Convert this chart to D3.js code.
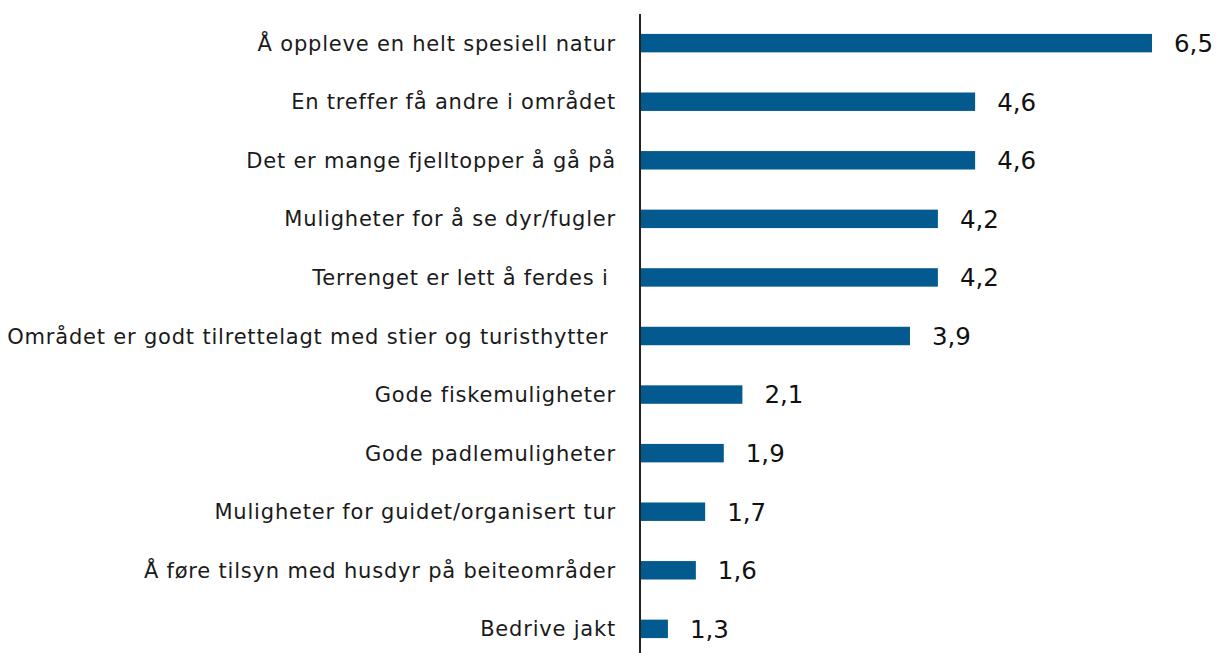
<!DOCTYPE html>
<html>
<head>
<meta charset="utf-8">
<script src="https://cdn.jsdelivr.net/npm/d3@7"></script>
<style>
  html, body { margin: 0; padding: 0; background: #fff; }
  svg { display: block; }
</style>
</head>
<body>
<svg id="chart" width="1218" height="653"></svg>
<script>
const categories = [
  "Å oppleve en helt spesiell natur",
  "En treffer få andre i området",
  "Det er mange fjelltopper å gå på",
  "Muligheter for å se dyr/fugler",
  "Terrenget er lett å ferdes i ",
  "Området er godt tilrettelagt med stier og turisthytter ",
  "Gode fiskemuligheter",
  "Gode padlemuligheter",
  "Muligheter for guidet/organisert tur",
  "Å føre tilsyn med husdyr på beiteområder",
  "Bedrive jakt"
];
const values = [6.5, 4.6, 4.6, 4.2, 4.2, 3.9, 2.1, 1.9, 1.7, 1.6, 1.3];
const axisMin = 1;

const svg = d3.select("#chart");
const W = 1218, H = 653;
const axisX = 640;

const x = d3.scaleLinear().domain([axisMin, 6.5]).range([axisX, 1152]);
const y = d3.scaleBand().domain(categories).range([14, 658]).paddingInner(0.685).paddingOuter(0.34);

const data = categories.map((c, i) => ({ c, v: values[i] }));

svg.selectAll("rect.bar").data(data).enter().append("rect")
  .attr("class", "bar")
  .attr("x", x(axisMin))
  .attr("y", d => y(d.c))
  .attr("width", d => x(d.v) - x(axisMin))
  .attr("height", y.bandwidth())
  .attr("fill", "#035A8E");

// category labels (left axis)
const yAxis = d3.axisLeft(y).tickSize(0).tickPadding(0);
const gy = svg.append("g").attr("transform", `translate(${axisX - 24},0)`).call(yAxis);
gy.select(".domain").remove();
gy.selectAll("text")
  .style("font-family", "'DejaVu Sans', sans-serif")
  .style("font-size", "21px")
  .style("letter-spacing", "0.8px")
  .attr("fill", "#1a1a1a")
  .style("white-space", "pre")
  .attr("dy", "0.36em");

// vertical axis line
svg.append("line")
  .attr("x1", axisX).attr("x2", axisX)
  .attr("y1", 14).attr("y2", H)
  .attr("stroke", "#222").attr("stroke-width", 2);

// value labels
const fmt = v => d3.format(".1f")(v).replace(".", ",");
svg.selectAll("text.val").data(data).enter().append("text")
  .attr("class", "val")
  .attr("x", d => x(d.v) + 22)
  .attr("y", d => y(d.c) + y.bandwidth() / 2)
  .attr("dy", "0.36em")
  .style("font-family", "'DejaVu Sans', sans-serif")
  .style("font-size", "24.5px")
  .attr("fill", "#111")
  .text(d => fmt(d.v));
</script>
</body>
</html>
